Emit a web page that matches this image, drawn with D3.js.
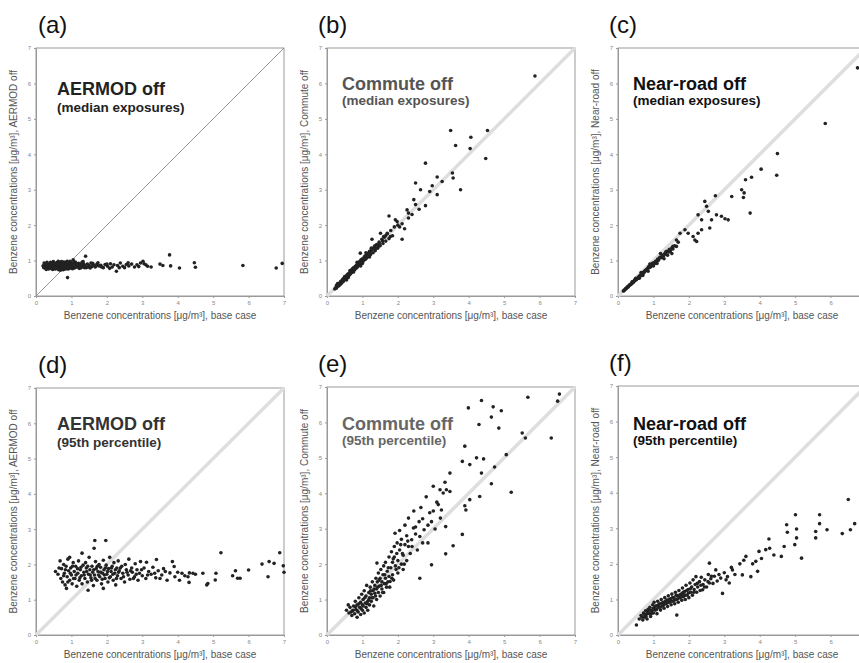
<!DOCTYPE html>
<html><head><meta charset="utf-8">
<script src="https://cdn.jsdelivr.net/npm/d3@7"></script>
<style>body{margin:0;background:#fff;}svg{display:block;font-family:"Liberation Sans",Arial,sans-serif;}</style>
</head><body>
<script>
// ---- data ----
const panelLabels = ["(a)","(b)","(c)","(d)","(e)","(f)"];
const titles = ["AERMOD off","Commute off","Near-road off","AERMOD off","Commute off","Near-road off"];
const subtitles = ["(median exposures)","(median exposures)","(median exposures)","(95th percentile)","(95th percentile)","(95th percentile)"];
const yTitles = ["Benzene concentrations [\u03bcg/m\u00b3], AERMOD off","Benzene concentrations [\u03bcg/m\u00b3], Commute off","Benzene concentrations [\u03bcg/m\u00b3], Near-road off",
                 "Benzene concentrations [\u03bcg/m\u00b3], AERMOD off","Benzene concentrations [\u03bcg/m\u00b3], Commute off","Benzene concentrations [\u03bcg/m\u00b3], Near-road off"];
const xTitle = "Benzene concentrations [\u03bcg/m\u00b3], base case";
const tickValues = [0,1,2,3,4,5,6,7];

const aPts = [[0.2,0.85],[0.22,0.8],[0.25,0.9],[0.27,0.78],[0.3,0.86],[0.33,0.79],[0.35,0.82],[0.38,0.9],[0.4,0.86],[0.42,0.78],[0.44,0.82],[0.45,0.9],[0.47,0.75],[0.48,0.84],[0.5,0.8],[0.52,0.88],[0.53,0.93],[0.55,0.83],[0.55,0.76],[0.56,0.87],[0.57,0.8],[0.58,0.92],[0.6,0.86],[0.6,0.95],[0.61,0.83],[0.62,0.8],[0.63,0.89],[0.64,0.74],[0.65,0.84],[0.66,0.87],[0.67,0.77],[0.68,0.94],[0.69,0.91],[0.7,0.87],[0.7,0.8],[0.71,0.84],[0.72,0.82],[0.73,0.9],[0.74,0.86],[0.75,0.79],[0.76,0.85],[0.77,0.74],[0.78,0.96],[0.79,0.9],[0.8,0.83],[0.8,0.88],[0.81,0.86],[0.82,0.76],[0.83,0.8],[0.84,0.91],[0.85,0.85],[0.86,0.92],[0.87,0.8],[0.88,0.98],[0.89,0.52],[0.9,0.87],[0.91,0.76],[0.92,0.83],[0.93,0.85],[0.94,0.9],[0.95,0.78],[0.97,0.86],[0.98,0.95],[1.0,0.92],[1.0,0.81],[1.02,0.88],[1.03,0.77],[1.05,0.84],[1.05,1.02],[1.08,0.95],[1.1,0.8],[1.12,0.89],[1.15,0.86],[1.18,0.83],[1.2,0.92],[1.22,0.78],[1.25,0.88],[1.28,0.85],[1.3,0.95],[1.32,0.82],[1.35,0.9],[1.38,0.86],[1.4,1.12],[1.42,0.8],[1.45,0.9],[1.5,0.86],[1.55,0.93],[1.58,0.83],[1.62,0.88],[1.67,0.82],[1.72,0.9],[1.78,0.85],[1.83,0.87],[1.9,0.8],[1.95,0.89],[2.02,0.84],[2.1,0.91],[2.15,0.82],[2.2,0.88],[2.27,0.7],[2.3,0.86],[2.38,0.93],[2.45,0.84],[2.5,0.8],[2.55,0.89],[2.62,0.85],[2.7,0.9],[2.78,0.82],[2.85,0.88],[2.95,0.93],[3.02,0.98],[3.1,0.88],[3.15,0.84],[3.25,0.82],[3.5,0.9],[3.58,0.86],[3.77,1.16],[3.8,0.85],[4.05,0.79],[4.47,0.94],[4.5,0.81],[5.84,0.86],[6.78,0.79],[6.95,0.92],
  [0.23,0.93],[0.26,0.84],[0.29,0.75],[0.31,0.95],[0.34,0.88],[0.36,0.76],[0.39,0.83],[0.41,0.95],[0.43,0.87],[0.46,0.8],[0.49,0.97],[0.51,0.77],[0.54,0.9],[0.59,0.78],[0.63,0.98],[0.66,0.8],[0.69,0.73],[0.72,0.97],[0.75,0.91],[0.78,0.8],[0.82,0.95],[0.86,0.77],[0.9,0.93],[0.93,0.8],[0.96,0.98],[0.99,0.84],[1.04,0.93],[1.07,0.79],[1.11,0.96],[1.14,0.82],[1.17,0.91],[1.21,0.85],[1.26,0.79],[1.29,0.9],[1.33,0.97],[1.37,0.8],[1.48,0.82],[1.53,0.79],[1.6,0.92],[1.7,0.85],[1.75,0.94],[1.85,0.82],[2.0,0.9],[2.08,0.78],[2.35,0.8],[2.6,0.94],[2.9,0.83],[3.05,0.91]];

const bPts = [[0.22,0.2],[0.25,0.24],[0.27,0.3],[0.28,0.27],[0.3,0.31],[0.3,0.35],[0.32,0.28],[0.35,0.36],[0.35,0.3],[0.37,0.33],[0.4,0.42],[0.4,0.35],[0.42,0.38],[0.44,0.45],[0.45,0.48],[0.46,0.41],[0.48,0.5],[0.5,0.47],[0.5,0.55],[0.52,0.55],[0.54,0.5],[0.55,0.45],[0.56,0.58],[0.58,0.54],[0.6,0.63],[0.6,0.52],[0.62,0.58],[0.64,0.66],[0.65,0.72],[0.66,0.62],[0.68,0.71],[0.7,0.66],[0.7,0.75],[0.72,0.74],[0.74,0.7],[0.75,0.68],[0.76,0.8],[0.78,0.74],[0.8,0.84],[0.82,0.78],[0.84,0.88],[0.85,0.95],[0.86,0.82],[0.88,0.93],[0.9,0.86],[0.92,0.97],[0.94,0.9],[0.94,1.21],[0.95,0.85],[0.96,1.02],[0.98,0.95],[1.0,1.05],[1.0,0.92],[1.02,0.98],[1.05,1.1],[1.08,1.03],[1.1,1.15],[1.1,1.22],[1.12,1.07],[1.15,1.2],[1.18,1.12],[1.2,1.26],[1.2,1.1],[1.23,1.17],[1.25,1.35],[1.26,1.3],[1.27,1.6],[1.3,1.22],[1.33,1.38],[1.35,1.42],[1.36,1.28],[1.4,1.45],[1.43,1.35],[1.45,1.4],[1.47,1.52],[1.5,1.42],[1.51,1.77],[1.55,1.6],[1.58,1.48],[1.6,1.68],[1.62,1.66],[1.66,1.55],[1.7,1.75],[1.7,1.77],[1.75,1.62],[1.75,2.26],[1.79,1.68],[1.8,1.85],[1.85,1.7],[1.9,1.95],[1.93,2.15],[1.98,2.1],[2.0,2.0],[2.05,1.95],[2.12,2.04],[2.12,1.6],[2.19,1.9],[2.26,2.43],[2.3,2.34],[2.3,2.2],[2.4,2.3],[2.45,2.72],[2.5,2.58],[2.5,3.19],[2.6,2.45],[2.64,3.0],[2.78,2.55],[2.78,3.75],[2.9,2.95],[2.97,3.11],[3.11,3.36],[3.11,2.86],[3.25,3.23],[3.49,4.67],[3.54,3.47],[3.56,3.33],[3.63,4.25],[3.77,3.0],[4.04,4.16],[4.06,4.48],[4.48,3.88],[4.53,4.67],[5.87,6.21],
  [0.26,0.22],[0.33,0.33],[0.38,0.4],[0.43,0.42],[0.47,0.44],[0.53,0.52],[0.57,0.6],[0.63,0.62],[0.67,0.68],[0.73,0.78],[0.77,0.76],[0.83,0.85],[0.87,0.9],[0.93,0.94],[0.97,0.98],[1.03,1.02],[1.07,1.12],[1.13,1.18],[1.17,1.15],[1.22,1.24],[1.28,1.32],[1.38,1.35],[1.48,1.45],[1.57,1.55],[1.65,1.7]];

const cPts = [[0.15,0.14],[0.18,0.17],[0.2,0.19],[0.22,0.2],[0.25,0.23],[0.28,0.25],[0.3,0.28],[0.32,0.3],[0.35,0.32],[0.38,0.35],[0.4,0.36],[0.4,0.4],[0.42,0.4],[0.45,0.41],[0.48,0.44],[0.5,0.47],[0.5,0.5],[0.52,0.46],[0.55,0.5],[0.58,0.53],[0.6,0.56],[0.6,0.5],[0.62,0.55],[0.65,0.6],[0.65,0.66],[0.68,0.62],[0.7,0.66],[0.7,0.58],[0.72,0.64],[0.75,0.7],[0.78,0.71],[0.8,0.75],[0.82,0.73],[0.85,0.8],[0.85,0.7],[0.88,0.8],[0.9,0.84],[0.9,0.9],[0.92,0.82],[0.95,0.88],[0.98,0.89],[1.0,0.93],[1.0,0.85],[1.03,0.91],[1.06,0.98],[1.1,0.99],[1.1,0.92],[1.12,1.04],[1.15,1.02],[1.18,1.09],[1.2,1.2],[1.22,1.08],[1.25,1.15],[1.28,1.12],[1.3,1.05],[1.32,1.2],[1.35,1.18],[1.38,1.26],[1.4,1.15],[1.42,1.24],[1.45,1.32],[1.48,1.28],[1.52,1.36],[1.52,1.2],[1.55,1.33],[1.6,1.42],[1.65,1.4],[1.65,1.58],[1.7,1.52],[1.75,1.77],[1.89,1.87],[1.98,1.77],[2.12,1.68],[2.17,1.58],[2.22,1.54],[2.26,1.77],[2.26,2.29],[2.36,1.87],[2.36,2.15],[2.45,2.67],[2.5,2.53],[2.55,2.39],[2.59,1.92],[2.64,2.15],[2.75,2.83],[2.78,2.29],[2.92,2.25],[3.02,2.18],[3.11,2.15],[3.21,2.81],[3.49,3.0],[3.54,2.78],[3.56,2.91],[3.6,3.28],[3.73,2.34],[3.77,3.35],[4.04,3.58],[4.48,3.41],[4.5,4.02],[5.85,4.87],[6.76,6.44],
  [0.17,0.15],[0.23,0.22],[0.27,0.26],[0.33,0.31],[0.37,0.33],[0.43,0.38],[0.47,0.45],[0.53,0.49],[0.57,0.51],[0.63,0.58],[0.67,0.63],[0.73,0.67],[0.77,0.72],[0.83,0.77],[0.87,0.83],[0.93,0.86],[0.97,0.92],[1.05,0.95],[1.13,1.0],[1.25,1.1],[1.35,1.25],[1.45,1.25],[1.55,1.4]];

const dPts = [[0.55,1.8],[0.62,1.72],[0.68,2.1],[0.7,1.6],[0.72,1.88],[0.75,1.5],[0.78,2.0],[0.8,1.75],[0.82,1.42],[0.85,1.95],[0.86,1.32],[0.88,1.65],[0.9,2.15],[0.92,1.82],[0.95,1.55],[0.95,2.2],[0.98,1.9],[1.0,1.7],[1.02,1.45],[1.05,2.05],[1.08,1.8],[1.1,1.6],[1.12,1.95],[1.15,1.38],[1.18,1.75],[1.2,2.1],[1.22,1.55],[1.25,1.85],[1.28,1.68],[1.3,2.32],[1.3,1.45],[1.33,1.98],[1.35,1.78],[1.38,1.6],[1.4,2.05],[1.42,1.9],[1.45,1.5],[1.47,1.27],[1.48,1.72],[1.5,2.2],[1.52,1.85],[1.55,1.62],[1.58,1.95],[1.6,1.78],[1.62,1.4],[1.64,2.46],[1.66,2.68],[1.65,1.7],[1.68,2.08],[1.7,1.88],[1.72,1.55],[1.75,1.8],[1.78,2.0],[1.8,1.65],[1.82,1.92],[1.85,1.45],[1.88,1.75],[1.9,2.12],[1.9,1.32],[1.92,1.85],[1.95,1.6],[1.97,2.68],[1.98,1.98],[2.0,1.72],[2.03,1.5],[2.05,1.88],[2.08,2.2],[2.1,1.65],[2.12,1.8],[2.15,1.95],[2.18,1.55],[2.2,2.05],[2.22,1.75],[2.25,1.42],[2.28,1.9],[2.3,1.68],[2.32,2.1],[2.35,1.82],[2.4,1.6],[2.42,1.95],[2.45,1.75],[2.5,1.5],[2.52,2.0],[2.55,1.85],[2.6,1.7],[2.62,2.15],[2.65,1.58],[2.7,1.9],[2.72,1.78],[2.78,1.65],[2.8,2.02],[2.85,1.85],[2.88,1.55],[2.92,1.75],[2.95,2.08],[3.0,1.68],[3.05,1.9],[3.1,1.6],[3.12,2.06],[3.18,1.8],[3.25,1.72],[3.3,1.92],[3.38,1.62],[3.4,2.14],[3.45,1.82],[3.55,1.7],[3.6,1.88],[3.7,1.55],[3.78,1.76],[3.85,2.08],[3.9,1.94],[3.92,1.65],[4.0,1.78],[4.05,1.55],[4.12,1.75],[4.2,1.68],[4.29,1.65],[4.32,1.49],[4.33,1.76],[4.43,1.75],[4.5,1.72],[4.71,1.75],[4.82,1.42],[4.85,1.46],[5.06,1.56],[5.08,1.75],[5.22,2.33],[5.55,1.68],[5.63,1.82],[5.69,1.61],[5.76,1.61],[6.0,1.84],[6.38,2.01],[6.55,1.65],[6.58,2.08],[6.72,2.03],[6.88,2.33],[6.98,1.96],[7.0,1.78],
  [0.65,1.9],[0.78,1.68],[0.83,1.85],[0.9,1.5],[0.97,1.75],[1.03,1.95],[1.06,1.6],[1.13,1.7],[1.17,1.88],[1.24,1.62],[1.27,1.92],[1.36,1.7],[1.43,1.8],[1.46,1.95],[1.53,1.7],[1.57,1.55],[1.63,1.85],[1.67,1.6],[1.73,1.95],[1.77,1.7],[1.83,1.78],[1.87,1.58],[1.93,1.7],[1.96,1.9],[2.02,1.8],[2.07,1.62],[2.13,1.9],[2.17,1.72],[2.24,1.85],[2.27,1.6],[2.33,1.78],[2.38,1.9],[2.47,1.65],[2.57,1.78],[2.67,1.82],[2.75,1.6],[2.83,1.72],[2.98,1.85],[3.15,1.7],[3.35,1.75],[3.5,1.6],[3.65,1.8]];

const ePts = [[0.55,0.7],[0.62,0.62],[0.65,0.78],[0.7,0.55],[0.72,0.68],[0.75,0.82],[0.78,0.6],[0.8,0.95],[0.82,0.72],[0.85,0.5],[0.85,0.85],[0.88,0.65],[0.9,1.05],[0.92,0.78],[0.95,0.58],[0.95,0.92],[0.98,1.15],[1.0,0.7],[1.0,0.85],[1.02,1.0],[1.05,0.62],[1.05,1.25],[1.08,0.9],[1.1,0.78],[1.1,1.1],[1.12,1.4],[1.15,0.95],[1.15,0.7],[1.18,1.2],[1.2,1.05],[1.2,0.85],[1.22,1.35],[1.25,1.15],[1.25,0.95],[1.28,1.5],[1.3,1.25],[1.3,1.05],[1.32,0.82],[1.35,1.4],[1.35,1.18],[1.38,1.6],[1.4,1.3],[1.4,1.0],[1.41,2.03],[1.42,1.5],[1.45,1.2],[1.45,1.75],[1.48,1.38],[1.5,1.1],[1.5,1.6],[1.52,1.85],[1.55,1.3],[1.55,1.5],[1.58,1.7],[1.6,1.2],[1.6,1.95],[1.62,1.45],[1.65,1.6],[1.65,2.05],[1.68,1.35],[1.7,1.8],[1.72,1.5],[1.75,2.2],[1.75,1.65],[1.78,1.51],[1.8,1.9],[1.82,2.35],[1.85,1.7],[1.85,2.05],[1.88,1.55],[1.9,2.5],[1.9,2.2],[1.92,2.87],[1.95,1.85],[1.98,2.6],[2.0,2.1],[2.0,1.75],[2.05,2.4],[2.05,2.95],[2.1,2.0],[2.1,2.7],[2.15,2.25],[2.15,1.85],[2.2,2.55],[2.2,3.1],[2.25,2.1],[2.25,2.8],[2.3,2.5],[2.3,3.3],[2.35,2.3],[2.39,2.69],[2.44,3.02],[2.45,3.5],[2.5,2.85],[2.55,2.4],[2.6,3.2],[2.62,2.78],[2.62,1.6],[2.65,3.6],[2.7,3.28],[2.74,2.97],[2.8,3.9],[2.85,2.6],[2.9,3.45],[2.95,3.2],[2.95,1.98],[3.0,4.2],[3.05,2.99],[3.1,3.75],[3.14,3.68],[3.19,4.1],[3.23,3.53],[3.28,4.01],[3.33,4.31],[3.35,3.06],[3.35,2.29],[3.37,4.1],[3.47,4.57],[3.47,4.05],[3.56,2.52],[3.82,2.84],[3.82,4.9],[3.89,5.33],[3.89,3.65],[3.92,3.53],[3.99,6.41],[4.03,4.81],[4.03,3.82],[4.22,5.0],[4.29,5.94],[4.31,3.91],[4.36,6.62],[4.36,4.57],[4.42,4.97],[4.64,6.15],[4.64,4.27],[4.69,6.44],[4.73,4.74],[4.85,5.84],[4.92,6.33],[5.06,5.09],[5.2,4.03],[5.51,5.7],[5.6,5.56],[5.67,6.71],[6.33,5.56],[6.51,6.6],[6.56,6.8],
  [0.6,0.85],[0.68,0.65],[0.74,0.7],[0.8,0.8],[0.86,0.68],[0.9,0.88],[0.96,0.75],[1.02,0.82],[1.07,1.05],[1.13,0.88],[1.18,1.0],[1.23,1.25],[1.27,1.05],[1.33,1.3],[1.37,1.1],[1.43,1.35],[1.47,1.55],[1.53,1.4],[1.57,1.2],[1.63,1.7],[1.67,1.45],[1.73,1.9],[1.77,1.35],[1.83,1.6],[1.87,2.15],[1.93,1.95],[1.97,2.3],[2.03,1.9],[2.08,2.55],[2.13,2.3],[2.18,2.0],[2.28,2.65],[2.4,2.5],[2.5,3.05],[2.7,2.6],[2.85,3.1],[3.0,3.5],[3.2,3.3]];

const fPts = [[0.52,0.28],[0.6,0.45],[0.65,0.55],[0.7,0.42],[0.72,0.62],[0.75,0.5],[0.78,0.68],[0.8,0.58],[0.82,0.45],[0.85,0.72],[0.88,0.6],[0.9,0.78],[0.92,0.52],[0.95,0.68],[0.98,0.85],[1.0,0.62],[1.0,0.75],[1.02,0.92],[1.05,0.7],[1.08,0.82],[1.1,0.6],[1.12,0.95],[1.15,0.78],[1.18,0.88],[1.2,0.7],[1.22,1.0],[1.25,0.82],[1.28,0.92],[1.3,0.75],[1.32,1.05],[1.35,0.88],[1.38,0.98],[1.4,0.8],[1.42,1.1],[1.45,0.92],[1.48,1.02],[1.5,0.85],[1.52,1.15],[1.55,0.95],[1.58,1.05],[1.6,0.88],[1.62,1.2],[1.65,1.0],[1.66,0.56],[1.68,1.1],[1.7,0.92],[1.72,1.25],[1.75,1.05],[1.78,1.15],[1.8,0.98],[1.82,1.32],[1.83,1.17],[1.85,1.08],[1.88,1.22],[1.9,1.0],[1.92,1.4],[1.95,1.12],[1.98,1.28],[2.0,1.05],[2.03,1.46],[2.05,1.2],[2.08,1.35],[2.1,1.12],[2.12,1.55],[2.15,1.28],[2.18,1.42],[2.2,1.64],[2.22,1.2],[2.25,1.35],[2.3,1.5],[2.32,1.25],[2.35,1.62],[2.39,1.27],[2.4,1.42],[2.45,1.55],[2.5,1.35],[2.55,1.7],[2.58,1.46],[2.58,2.02],[2.62,1.58],[2.68,1.45],[2.72,1.65],[2.76,1.83],[2.8,1.52],[2.85,1.7],[2.9,1.6],[2.95,1.17],[3.0,1.75],[3.05,1.55],[3.09,1.64],[3.14,1.46],[3.2,1.9],[3.23,1.83],[3.3,1.7],[3.44,2.0],[3.51,1.69],[3.55,2.1],[3.61,2.21],[3.75,1.64],[3.8,2.0],[3.89,2.07],[3.94,1.79],[3.98,2.35],[4.05,2.15],[4.17,2.4],[4.26,2.7],[4.28,2.44],[4.4,2.25],[4.61,2.21],[4.69,2.49],[4.76,3.1],[4.78,2.89],[4.99,2.54],[5.01,3.38],[5.04,2.98],[5.04,2.73],[5.18,2.16],[5.58,2.91],[5.58,2.73],[5.69,3.13],[5.69,3.38],[5.9,2.96],[6.33,2.85],[6.5,3.81],[6.56,2.96],[6.68,3.13],
  [0.68,0.5],[0.74,0.58],[0.79,0.52],[0.84,0.64],[0.89,0.7],[0.94,0.6],[0.99,0.72],[1.04,0.8],[1.09,0.72],[1.14,0.85],[1.19,0.78],[1.24,0.9],[1.29,0.84],[1.34,0.95],[1.39,0.9],[1.44,1.0],[1.49,0.95],[1.54,1.05],[1.59,0.98],[1.64,1.12],[1.69,1.02],[1.74,1.12],[1.79,1.08],[1.84,1.2],[1.89,1.12],[1.94,1.25],[1.99,1.18],[2.04,1.3],[2.14,1.2],[2.24,1.45],[2.34,1.4],[2.44,1.35],[2.54,1.5],[2.64,1.65]];

const allPts = [aPts,bPts,cPts,dPts,ePts,fPts];

// ---- layout / style ----
const W = 859, H = 663;
const frames = [
  {l:36, t:48, b:296, titleY:47, subY:64, titleColor:"#222", diag:"thin"},
  {l:327,t:48, b:296, titleY:42, subY:57, titleColor:"#555", diag:"band"},
  {l:618,t:48, b:296, titleY:42, subY:57, titleColor:"#111", diag:"band"},
  {l:36, t:388,b:635, titleY:42, subY:59, titleColor:"#333", diag:"band"},
  {l:327,t:387,b:635, titleY:43, subY:58, titleColor:"#666", diag:"band"},
  {l:618,t:386,b:635, titleY:44, subY:59, titleColor:"#111", diag:"band"}
];
const PW = 248;

const svg = d3.select("body").append("svg").attr("width", W).attr("height", H);

frames.forEach((f, i) => {
  const x = d3.scaleLinear().domain([0, 7]).range([f.l, f.l + PW]);
  const y = d3.scaleLinear().domain([0, 7]).range([f.b, f.t]);
  const g = svg.append("g");

  // frame
  g.append("rect").attr("x", f.l).attr("y", f.t).attr("width", PW).attr("height", f.b - f.t)
    .attr("fill", "none").attr("stroke", "#9a9a9a").attr("stroke-width", 1);

  // axes (x tick labels that would fall off the page are left out)
  const xTicks = tickValues.filter(v => x(v) < W - 4);
  const ax = g.append("g").attr("transform", `translate(0,${f.b})`)
    .call(d3.axisBottom(x).tickValues(xTicks).tickSize(2).tickPadding(3).tickFormat(d3.format("d")));
  const ay = g.append("g").attr("transform", `translate(${f.l},0)`)
    .call(d3.axisLeft(y).tickValues(tickValues).tickSize(2).tickPadding(3).tickFormat(d3.format("d")));
  [ax, ay].forEach(a => {
    a.select(".domain").attr("stroke", "#9a9a9a");
    a.selectAll(".tick line").attr("stroke", "#999");
    a.selectAll(".tick text").attr("fill", "#888").style("font-size", "6px");
  });

  // 1:1 line
  const line = d3.line().x(d => x(d)).y(d => y(d));
  if (f.diag === "thin") {
    g.append("path").attr("d", line([0, 7])).attr("stroke", "#8c8c8c").attr("stroke-width", 0.9).attr("fill", "none");
  } else {
    g.append("path").attr("d", line([0, 7])).attr("stroke", "#dedede").attr("stroke-width", 3.5).attr("fill", "none");
  }

  // points
  g.append("g").selectAll("circle").data(allPts[i]).join("circle")
    .attr("cx", d => x(d[0])).attr("cy", d => y(d[1])).attr("r", 1.8)
    .attr("fill", "#222");

  // titles
  g.append("text").attr("x", f.l + (i % 3 === 0 ? 21 : 15)).attr("y", f.t + f.titleY)
    .attr("fill", f.titleColor).style("font-size", "18px").style("font-weight", "bold").text(titles[i]);
  g.append("text").attr("x", f.l + (i % 3 === 0 ? 21 : 15)).attr("y", f.t + f.subY)
    .attr("fill", f.titleColor).style("font-size", "13.5px").style("font-weight", "bold").text(subtitles[i]);

  // panel label
  g.append("text").attr("x", f.l + (i % 3 === 0 ? 2 : -9)).attr("y", f.t - 15)
    .attr("fill", "#111").style("font-size", "24px").text(panelLabels[i]);

  // axis titles
  g.append("text").attr("x", f.l + PW / 2).attr("y", f.b + 23)
    .attr("text-anchor", "middle").attr("fill", "#555").style("font-size", "10px").text(xTitle);
  g.append("text").attr("transform", `translate(${f.l - 19},${(f.t + f.b) / 2}) rotate(-90)`)
    .attr("text-anchor", "middle").attr("fill", "#555").style("font-size", "10px").text(yTitles[i]);
});
</script>
</body></html>
